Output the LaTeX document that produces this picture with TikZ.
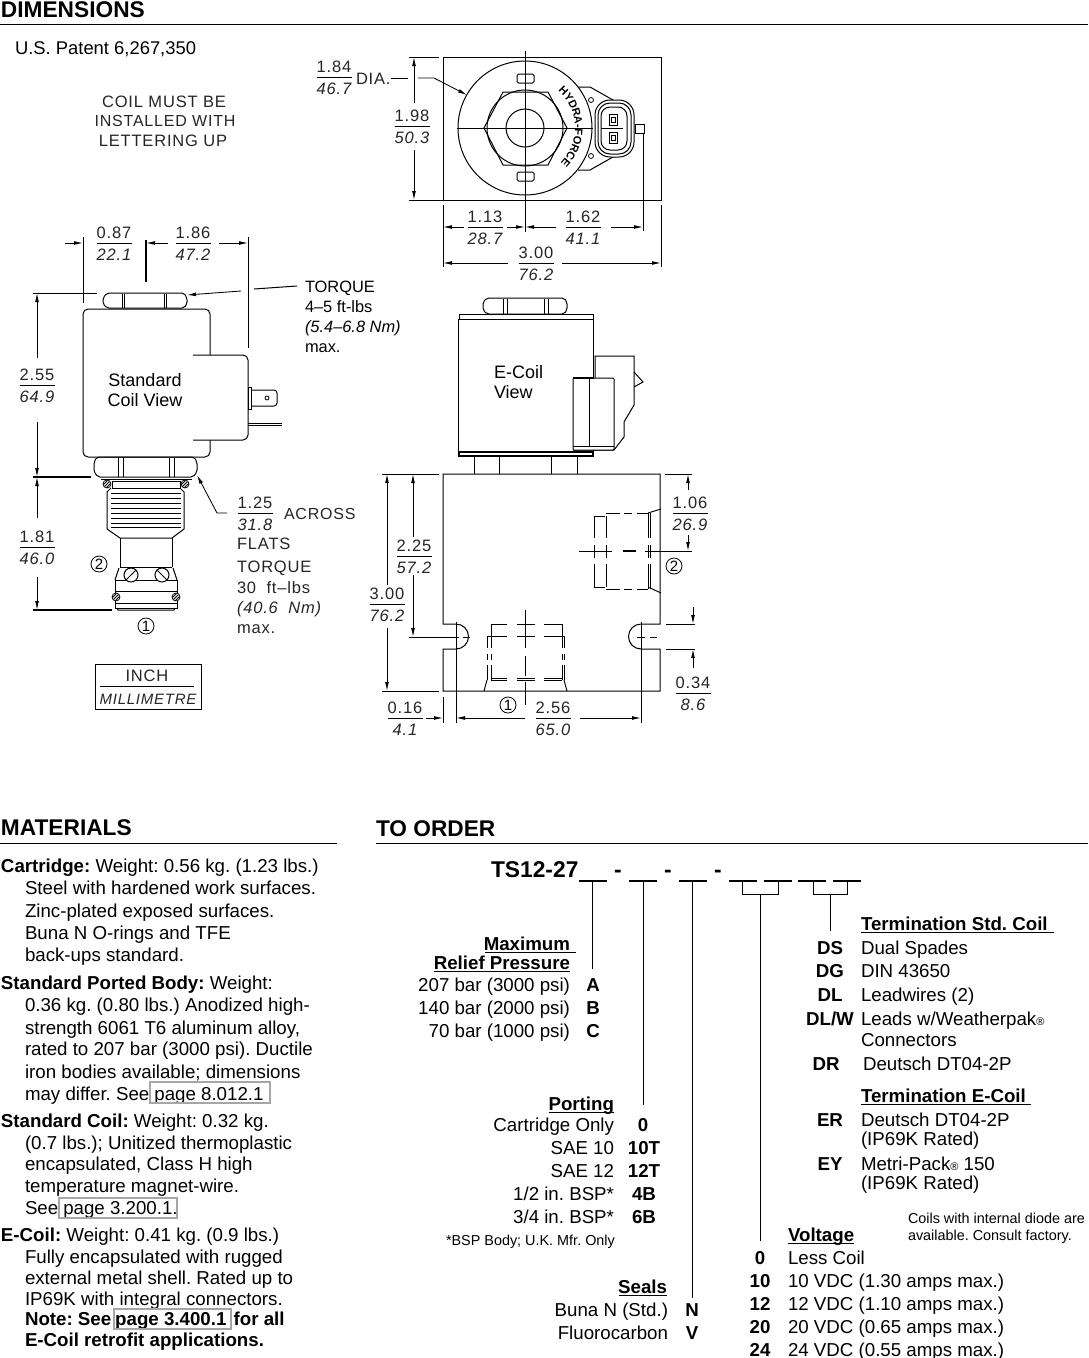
\documentclass[tikz,border=0pt]{standalone}
\usepackage{fontspec}
\setmainfont{Liberation Sans}
\newfontfamily\cadfont[LetterSpace=5]{Liberation Sans}
\usetikzlibrary{arrows.meta,decorations.text}
\AtBeginDocument{\frenchspacing}
\newcounter{txt}
\tikzset{
  base/.style={inner sep=0pt,outer sep=0pt,text=black},
  body/.style={base,font=\fontsize{18.7}{20}\selectfont,text height=13.4pt,text depth=0pt},
  head/.style={base,font=\bfseries\fontsize{22.7}{24}\selectfont,text height=16.2pt,text depth=0pt},
  label/.style={base,font=\fontsize{18}{20}\selectfont,text height=13pt,text depth=0pt},
  torq/.style={base,font=\fontsize{16.4}{18}\selectfont,text height=11.8pt,text depth=0pt},
  cad/.style={base,text=black!85,font=\cadfont\fontsize{16.5}{18}\selectfont,text height=12pt,text depth=0pt},
  cadi/.style={base,text=black!85,font=\cadfont\itshape\fontsize{16.5}{18}\selectfont,text height=12pt,text depth=0pt},
  tiny/.style={base,font=\fontsize{14.4}{15}\selectfont,text height=10.3pt,text depth=0pt},
  ttl/.style={base,font=\bfseries\fontsize{22.8}{24}\selectfont,text height=16.3pt,text depth=0pt},
  ln/.style={line width=1pt,line cap=butt},
  thin/.style={line width=.75pt},
  dm/.style={line width=.85pt,-{Latex[length=9pt,width=3.8pt]}},
  hid/.style={line width=.95pt},
  pagebox/.style={draw=black!35,line width=1.2pt},
  conn/.style={line width=1pt},
}
\newcommand\T[5][body]{\stepcounter{txt}\node[#1,anchor=#2] (t\arabic{txt}) at (#3,#4) {#5};}
\newcommand\Fr[4]{\T[cad]{center}{#1}{#2-11}{#3}\T[cadi]{center}{#1}{#2+11}{#4}\draw[thin] (#1-17.5,#2) -- (#1+17.5,#2);}
\newcommand\Num[3]{\stepcounter{txt}\node[base,draw,circle,line width=.8pt,minimum size=16pt,font=\fontsize{15}{15}\selectfont] (t\arabic{txt}) at (#1,#2) {#3};}
\newcommand\Screw[2]{\draw[thin,fill=white] (#1,#2) circle[radius=4pt]; \draw[line width=.9pt] (#1-2.5,#2+2.5) -- (#1+2.5,#2-2.5) (#1-3.5,#2+.5) -- (#1+.5,#2-3.5) (#1-.5,#2+3.5) -- (#1+3.5,#2-.5);}
\begin{document}
\begin{tikzpicture}[x=1pt,y=-1pt]
\useasboundingbox[fill=white] (0,0) rectangle (1088,1358);
% ---------- headings
\T[head]{west}{1}{9}{DIMENSIONS}
\draw[ln] (0,24) -- (1088,24);
\T[head]{west}{1}{827}{MATERIALS}
\draw[ln] (0,843) -- (337,843);
\T[head]{west}{376}{828}{TO ORDER}
\draw[ln] (376,843) -- (1088,843);
\T{west}{15}{48}{\fontsize{18.4}{20}\selectfont U.S. Patent 6,267,350}
\T[cad]{center}{164}{101}{COIL MUST BE}
\T[cad]{center}{165}{120}{\fontsize{16}{18}\selectfont INSTALLED WITH}
\T[cad]{center}{163}{140}{LETTERING UP}
% ---------- top view
\draw[ln] (443,57) rectangle (661,200);
\draw[ln] (578,87) -- (590,87) -- (613,100) -- (613,157) -- (590,170) -- (578,170);
\draw[ln,fill=white] (525,128) circle[radius=67pt];
\draw[ln] (484,128) -- (503,92) -- (548,92) -- (567,128) -- (548,165) -- (503,165) -- cycle;
\draw[ln] (525,128) circle[radius=38pt];
\draw[ln] (525,128) circle[radius=19pt];
\draw[ln,rounded corners=1.5pt] (517,74) rectangle (534,83);
\draw[ln,rounded corners=1.5pt] (517,172) rectangle (534,181);
\draw[ln] (525,51) -- (525,232);
\draw[ln] (457,128) -- (593,128);
\draw[ln,fill=white,rounded corners=15pt] (595,100) rectangle (634,157);
\draw[ln,rounded corners=12pt] (598,103) rectangle (631,154);
\draw[ln,rounded corners=9pt] (601,107) rectangle (627,150);
\draw[ln] (601,128.5) -- (623,128.5);
\draw[ln] (609,114) rectangle (617,125);
\draw[ln] (611,117) rectangle (615,122);
\draw[ln] (609,132) rectangle (617,143);
\draw[ln] (611,135) rectangle (615,140);
\draw[ln] (635,124) rectangle (644,133);
\draw[thin] (591,100) circle[radius=2.5pt];
\draw[thin] (591,156) circle[radius=2.5pt];
\path[decorate,decoration={text along path,text align=center,text={|\bfseries\fontsize{11}{12}\selectfont|HYDRA-FORCE}}]
  (557.1,89.7) .. controls (579.9,108.8) and (581.1,143.4) .. (559.7,164);
% top view dims
\Fr{334}{77}{1.84}{46.7}
\T[cad]{west}{356}{78}{DIA.}
\draw[ln] (391,78) -- (408,78);
\draw[dm] (418,78) -- (434,78) -- (467,95);
\draw[ln] (409,57) -- (439,57);
\draw[ln] (409,200) -- (443,200);
\Fr{412}{126}{1.98}{50.3}
\draw[dm] (414,103) -- (414,57);
\draw[dm] (414,150) -- (414,200);
\draw[ln] (443,205) -- (443,267);
\draw[ln] (661,205) -- (661,267);
\draw[ln] (643,133) -- (643,231);
\Fr{485}{227}{1.13}{28.7}
\Fr{583}{227}{1.62}{41.1}
\draw[dm] (464,227) -- (443,227);
\draw[dm] (507,227) -- (525,227);
\draw[dm] (556,227) -- (525,227);
\draw[dm] (611,227) -- (643,227);
\Fr{536}{263}{3.00}{76.2}
\draw[dm] (508,263) -- (443,263);
\draw[dm] (562,263) -- (661,263);
% ---------- standard coil view
\draw[ln,rounded corners=2pt] (107,293) -- (184,293) -- (187,298) -- (187,304) -- (184,308) -- (107,308) -- (103,304) -- (103,298) -- cycle;
\draw[ln] (122,294) -- (122,308) (124,294) -- (124,308) (164,294) -- (164,308) (166,294) -- (166,308);
\draw[ln,rounded corners=5pt] (83,309) rectangle (210,457);
\draw[ln,fill=white,rounded corners=5pt] (193,355) -- (248,355) -- (248,440) -- (193,440);
\draw[ln] (248,387) rectangle (251,409);
\draw[ln,rounded corners=3pt] (251,390) -- (277,390) -- (277,406) -- (251,406);
\draw[thin] (267,398) circle[radius=2pt];
\draw[ln] (248,423) -- (282,423) (248,425) -- (282,425);
\T[label]{center}{145}{380}{Standard}
\T[label]{center}{145}{400}{Coil View}
\draw[ln,rounded corners=2pt] (97,457) -- (194,457) -- (197,462) -- (197,472) -- (193,477) -- (98,477) -- (94,472) -- (94,462) -- cycle;
\draw[ln] (118,458) -- (118,477) (123,458) -- (123,477) (169,458) -- (169,477) (174,458) -- (174,477);
\draw[ln] (101,479) -- (192,479);
\draw[ln] (112,481) -- (112,488) (180,481) -- (180,488) (112,488) -- (180,488);
\draw[ln] (112,481) -- (180,481);
\Screw{107}{484}\Screw{185}{484}
\draw[ln] (111,488) -- (107,492) -- (107,529) -- (120,538) -- (172,538) -- (184,529) -- (184,492) -- (180,488);
\foreach \yy in {493,498,503,508,513,518,523,527} \draw[thin] (111,\yy) -- (181,\yy);
\draw[ln] (120,538) -- (120,567) (172,538) -- (172,567);
\draw[ln] (120,567) -- (172,567);
\draw[ln] (119,568) -- (115,580) (173,568) -- (177,580);
\draw[ln] (115,580) rectangle (177,608);
\draw[ln] (115,591) -- (177,591) (115,603) -- (177,603);
\draw[ln,fill=white] (131,575) circle[radius=7pt];
\draw[thin] (126,580) -- (136,570);
\draw[ln,fill=white] (162,575) circle[radius=7pt];
\draw[thin] (157,570) -- (167,580);
\Screw{116}{597}\Screw{176}{597}
\draw[ln] (117,608) -- (118,610) -- (174,610) -- (175,608);
% std coil dims
\draw[ln] (83,237) -- (83,303);
\draw[line width=1.2pt] (146,240) -- (146,282);
\draw[ln] (248,237) -- (248,348);
\Fr{114}{243}{0.87}{22.1}
\Fr{193}{243}{1.86}{47.2}
\draw[dm] (65,243) -- (83,243);
\draw[dm] (168,243) -- (146,243);
\draw[dm] (219,243) -- (248,243);
\draw[ln] (33,293) -- (97,293);
\draw[line width=1.2pt] (33,477) -- (91,477);
\draw[line width=1.2pt] (33,610) -- (112,610);
\Fr{37}{385}{2.55}{64.9}
\Fr{37}{547}{1.81}{46.0}
\draw[dm] (37,358) -- (37,293);
\draw[dm] (37,422) -- (37,477);
\draw[dm] (37,518) -- (37,477);
\draw[dm] (37,577) -- (37,610);
\draw[ln] (297,286) -- (254,289);
\draw[dm] (241,291) -- (187,295);
\T[torq]{west}{305}{287}{TORQUE}
\T[torq]{west}{305}{307}{4–5 ft-lbs}
\T[torq]{west}{305}{327}{\itshape(5.4–6.8 Nm)}
\T[torq]{west}{305}{347}{max.}
\draw[dm] (227,513) -- (217,513) -- (197,475);
\Fr{255}{513}{1.25}{31.8}
\T[cad]{west}{284}{513}{\fontsize{16}{18}\selectfont ACROSS}
\T[cad]{west}{237}{543}{FLATS}
\T[cad]{west}{237}{566}{TORQUE}
\T[cad]{west}{237}{587}{30\hspace{5pt} ft–lbs}
\T[cadi]{west}{237}{607}{(40.6\hspace{5pt} Nm)}
\T[cad]{west}{237}{627}{max.}
\Num{99}{564}{2}
\Num{146}{626}{1}
\draw[thin] (95,664) rectangle (201,709);
\draw[thin] (100,686) -- (194,686);
\T[cad]{center}{147}{675}{INCH}
\T[cadi]{center}{148}{698}{\fontsize{15}{17}\selectfont MILLIMETRE}
% ---------- E-coil view
\draw[ln,rounded corners=2pt] (487,298) -- (564,298) -- (567,302) -- (567,310) -- (564,314) -- (487,314) -- (483,310) -- (483,302) -- cycle;
\draw[ln] (503,299) -- (503,314) (507,299) -- (507,314) (544,299) -- (544,314) (548,299) -- (548,314);
\draw[ln] (459,314) rectangle (593,319);
\draw[ln] (458,319) rectangle (593,452);
\draw[line width=1.2pt] (459,452) rectangle (593,456);
\draw[ln] (595,378) -- (595,356) -- (634,356) -- (634,405) -- (624,422) -- (624,437) -- (614,450) -- (573,450);
\draw[ln] (634,372) -- (643,382) -- (634,387);
\draw[ln,fill=white,rounded corners=1pt] (573,378) rectangle (614,450);
\draw[line width=1.3pt] (573,378) -- (594,378);
\draw[ln] (589,378) -- (589,446) (573,446) -- (614,446);
\T[label]{west}{494}{372}{E-Coil}
\T[label]{west}{494}{392}{View}
\draw[ln] (474,456) -- (474,474) (499,456) -- (499,474) (551,456) -- (551,474) (577,456) -- (577,474);
% ---------- block
\draw[ln] (443,624) -- (443,474) -- (660,474) -- (660,624) -- (641,624) arc[start angle=90,end angle=270,radius=12.5pt] -- (660,649) -- (660,691) -- (443,691) -- (443,649) -- (456,649) arc[start angle=-90,end angle=90,radius=12.5pt] -- cycle;
% center marks
\draw[ln] (456,622) -- (456,723);
\draw[ln] (641,622) -- (641,723);
\draw[ln] (409,637) -- (459,637) (463,637) -- (470,637);
\draw[ln] (637,637) -- (645,637) (650,637) -- (657,637);
% port 2 (hidden)
\foreach \xa/\xb in {606/620,624/632,637/648}{\draw[hid] (\xa,513) -- (\xb,513);\draw[hid] (\xa,589) -- (\xb,589);}
\draw[hid] (594,516) -- (605,516) (594,587) -- (605,587);
\foreach \xx in {594,606}{\draw[hid] (\xx,516) -- (\xx,538) (\xx,545) -- (\xx,558) (\xx,564) -- (\xx,587);}
\foreach \xx in {648,650}{\draw[hid] (\xx,513) -- (\xx,538) (\xx,545) -- (\xx,558) (\xx,564) -- (\xx,589);}
\draw[hid] (648,513) -- (661,509) (648,587) -- (661,593);
\draw[hid] (579,551) -- (612,551);
\draw[line width=1.4pt] (623,551) -- (636,551);
\draw[hid] (645,551) -- (692,551);
% port 1 (hidden)
\foreach \xa/\xb in {491/507,517/535,544/562}{\draw[hid] (\xa,624) -- (\xb,624);\draw[hid] (\xa,678) -- (\xb,678);\draw[hid] (\xa,680) -- (\xb,680);}
\draw[hid] (487,636) -- (507,636) (517,636) -- (535,636) (544,636) -- (564,636);
\foreach \xx in {487,491,562,564}{\draw[hid] (\xx,636) -- (\xx,648) (\xx,654) -- (\xx,660) (\xx,665) -- (\xx,680);}
\draw[hid] (491,624) -- (491,636) (562,624) -- (562,636);
\draw[hid] (487,680) -- (484,691) (564,680) -- (567,691);
\draw[hid] (525,610) -- (525,648) (525,656) -- (525,676) (525,682) -- (525,705);
% block dims
\draw[ln] (382,474) -- (439,474);
\draw[ln] (382,691) -- (439,691);
\Fr{387}{604}{3.00}{76.2}
\draw[dm] (387,585) -- (387,474);
\draw[dm] (387,628) -- (387,691);
\Fr{414}{556}{2.25}{57.2}
\draw[dm] (413,537) -- (413,474);
\draw[dm] (413,575) -- (413,637);
\draw[ln] (665,474) -- (692,474);
\Fr{690}{513}{1.06}{26.9}
\draw[dm] (688,490) -- (688,474);
\draw[dm] (688,535) -- (688,551);
\draw[ln] (666,624) -- (695,624);
\draw[ln] (666,649) -- (695,649);
\draw[dm] (693,607) -- (693,624);
\draw[dm] (693,668) -- (693,649);
\Fr{693}{693}{0.34}{8.6}
\draw[ln] (443,697) -- (443,723);
\Fr{405}{718}{0.16}{4.1}
\draw[dm] (426,718) -- (443,718);
\Fr{553}{718}{2.56}{65.0}
\draw[dm] (525,718) -- (456,718);
\draw[dm] (580,718) -- (641,718);
\Num{508}{705}{1}
\Num{674}{566}{2}
% ---------- materials
\T{west}{1}{866}{\textbf{Cartridge:} Weight: 0.56 kg. (1.23 lbs.)}
\T{west}{25}{888}{Steel with hardened work surfaces.}
\T{west}{25}{911}{Zinc-plated exposed surfaces.}
\T{west}{25}{933}{Buna N O-rings and TFE}
\T{west}{25}{955}{back-ups standard.}
\T{west}{1}{983}{\textbf{Standard Ported Body:} Weight:}
\T{west}{25}{1005}{0.36 kg. (0.80 lbs.) Anodized high-}
\T{west}{25}{1028}{strength 6061 T6 aluminum alloy,}
\T{west}{25}{1049}{rated to 207 bar (3000 psi). Ductile}
\T{west}{25}{1072}{iron bodies available; dimensions}
\T{west}{25}{1094}{may differ. See\hspace{5pt}page 8.012.1}
\draw[pagebox] (150,1082) rectangle (270,1103);
\T{west}{1}{1121}{\textbf{Standard Coil:} Weight: 0.32 kg.}
\T{west}{25}{1143}{(0.7 lbs.); Unitized thermoplastic}
\T{west}{25}{1164}{encapsulated, Class H high}
\T{west}{25}{1186}{temperature magnet-wire.}
\T{west}{25}{1208}{See\hspace{5pt}page 3.200.1.}
\draw[pagebox] (59,1198) rectangle (177,1218);
\T{west}{1}{1235}{\textbf{E-Coil:} Weight: 0.41 kg. (0.9 lbs.)}
\T{west}{25}{1257}{Fully encapsulated with rugged}
\T{west}{25}{1278}{external metal shell. Rated up to}
\T{west}{25}{1299}{IP69K with integral connectors.}
\T{west}{25}{1319}{\bfseries Note: See\hspace{4pt}page 3.400.1\hspace{2pt} for all}
\T{west}{25}{1340}{\bfseries E-Coil retrofit applications.}
\draw[pagebox] (114,1309) rectangle (231,1329);
% ---------- order code
\T[ttl]{west}{491}{869}{TS12-27}
\T[ttl]{center}{618}{869}{-}
\T[ttl]{center}{668}{869}{-}
\T[ttl]{center}{718}{869}{-}
\foreach \n/\xa/\xb in {a/579/607,b/629/657,c/679/707,d/729/757,e/764/792,f/798/826,g/833/861}{
  \draw[line width=1.2pt] (\xa,881) -- (\xb,881);}
\coordinate (ua) at (592,881); \coordinate (ea) at (592,969);
\coordinate (ub) at (643,881); \coordinate (eb) at (643,1105);
\coordinate (uc) at (692,881); \coordinate (ec) at (692,1298);
\coordinate (bd) at (760,894); \coordinate (ed) at (760,1241);
\coordinate (be) at (830,894); \coordinate (ee) at (830,931);
\draw[conn] (ua) -- (ea);
\draw[conn] (ub) -- (eb);
\draw[conn] (uc) -- (ec);
\draw[conn] (742,881) -- (742,894) -- (778,894) -- (778,881);
\draw[conn] (bd) -- (ed);
\draw[conn] (813,881) -- (813,894) -- (847,894) -- (847,881);
\draw[conn] (be) -- (ee);
% relief
\T{east}{570}{944}{\textbf{Maximum}}
\draw[ln] (485,952.5) -- (576,952.5);
\T{east}{570}{963}{\textbf{Relief Pressure}}
\draw[ln] (434,971.5) -- (570,971.5);
\T{east}{570}{985}{207 bar (3000 psi)}
\T{east}{570}{1008}{140 bar (2000 psi)}
\T{east}{570}{1031}{70 bar (1000 psi)}
\T{center}{593}{985}{\textbf{A}}
\T{center}{593}{1008}{\textbf{B}}
\T{center}{593}{1031}{\textbf{C}}
% porting
\T{east}{614}{1104}{\textbf{Porting}}
\draw[ln] (549,1112.5) -- (614,1112.5);
\T{east}{614}{1125}{Cartridge Only}
\T{east}{614}{1148}{SAE 10}
\T{east}{614}{1171}{SAE 12}
\T{east}{614}{1194}{1/2 in. BSP*}
\T{east}{614}{1217}{3/4 in. BSP*}
\T{center}{643}{1125}{\textbf{0}}
\T{center}{644}{1148}{\textbf{10T}}
\T{center}{644}{1171}{\textbf{12T}}
\T{center}{644}{1194}{\textbf{4B}}
\T{center}{644}{1217}{\textbf{6B}}
\T[tiny]{west}{446}{1240}{*BSP Body; U.K. Mfr. Only}
% seals
\T{east}{667}{1287}{\textbf{Seals}}
\draw[ln] (619,1295.5) -- (667,1295.5);
\T{east}{668}{1310}{Buna N (Std.)}
\T{east}{668}{1333}{Fluorocarbon}
\T{center}{692}{1310}{\textbf{N}}
\T{center}{692}{1333}{\textbf{V}}
% voltage
\T{west}{788}{1235}{\textbf{Voltage}}
\draw[ln] (788,1243.5) -- (854,1243.5);
\T{center}{760}{1258}{\textbf{0}}
\T{center}{760}{1281}{\textbf{10}}
\T{center}{760}{1304}{\textbf{12}}
\T{center}{760}{1327}{\textbf{20}}
\T{center}{760}{1350}{\textbf{24}}
\T{west}{788}{1258}{Less Coil}
\T{west}{788}{1281}{10 VDC (1.30 amps max.)}
\T{west}{788}{1304}{12 VDC (1.10 amps max.)}
\T{west}{788}{1327}{20 VDC (0.65 amps max.)}
\T{west}{788}{1350}{24 VDC (0.55 amps max.)}
\T[tiny]{west}{908}{1218}{Coils with internal diode are}
\T[tiny]{west}{908}{1235}{available. Consult factory.}
% termination
\T{west}{861}{924}{\textbf{Termination Std. Coil}}
\draw[ln] (861,932.5) -- (1054,932.5);
\T{center}{830}{948}{\textbf{DS}}
\T{center}{830}{971}{\textbf{DG}}
\T{center}{830}{995}{\textbf{DL}}
\T{center}{830}{1019}{\textbf{DL/W}}
\T{center}{826}{1064}{\textbf{DR}}
\T{west}{861}{948}{Dual Spades}
\T{west}{861}{971}{DIN 43650}
\T{west}{861}{995}{Leadwires (2)}
\T{west}{861}{1019}{Leads w/Weatherpak{\fontsize{11}{11}\selectfont ®}}
\T{west}{861}{1040}{Connectors}
\T{west}{863}{1064}{Deutsch DT04-2P}
\T{west}{861}{1096}{\textbf{Termination E-Coil}}
\draw[ln] (861,1104.5) -- (1031,1104.5);
\T{center}{830}{1120}{\textbf{ER}}
\T{center}{830}{1164}{\textbf{EY}}
\T{west}{861}{1120}{Deutsch DT04-2P}
\T{west}{861}{1139}{(IP69K Rated)}
\T{west}{861}{1164}{Metri-Pack{\fontsize{11}{11}\selectfont ®} 150}
\T{west}{861}{1183}{(IP69K Rated)}
\end{tikzpicture}
\end{document}
